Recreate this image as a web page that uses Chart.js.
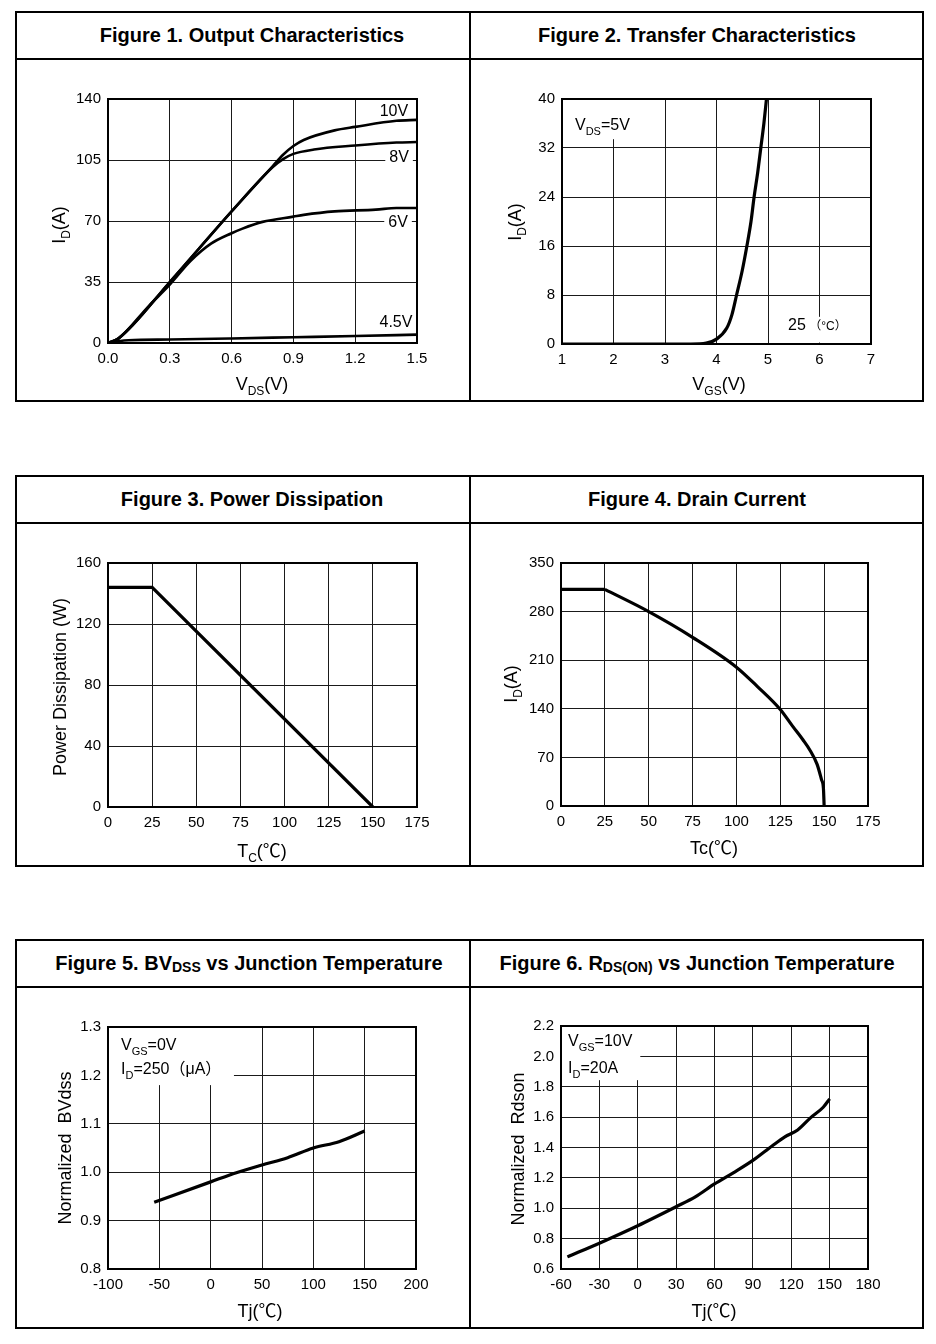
<!DOCTYPE html>
<html>
<head>
<meta charset="utf-8">
<script src="https://cdn.jsdelivr.net/npm/chart.js@4.4.1/dist/chart.umd.min.js"></script>
<style>
body{margin:0;width:936px;height:1344px;position:relative;background:#fff;font-family:"Liberation Sans",Arial,"Noto Sans CJK SC",sans-serif;}
.box{position:absolute;left:15px;width:909px;border:2px solid #000;box-sizing:border-box;}
.hl{position:absolute;left:15px;width:909px;height:2px;background:#000;}
.vl{position:absolute;left:469px;width:2px;background:#000;}
.ttl{position:absolute;height:45px;line-height:45px;text-align:center;font-weight:bold;font-size:20px;color:#000;}
.ttl small{font-size:14px;position:relative;top:2px;}
canvas{position:absolute;}
</style>
</head>
<body>
<div class="box" style="top:11px;height:391px"></div>
<div class="hl" style="top:58px"></div>
<div class="vl" style="top:11px;height:391px"></div>
<div class="ttl" style="left:16px;width:472px;top:13px">Figure 1. Output Characteristics</div>
<div class="ttl" style="left:470px;width:454px;top:13px">Figure 2. Transfer Characteristics</div>

<div class="box" style="top:475px;height:392px"></div>
<div class="hl" style="top:522px"></div>
<div class="vl" style="top:475px;height:392px"></div>
<div class="ttl" style="left:16px;width:472px;top:477px">Figure 3. Power Dissipation</div>
<div class="ttl" style="left:470px;width:454px;top:477px">Figure 4. Drain Current</div>

<div class="box" style="top:939px;height:390px"></div>
<div class="hl" style="top:986px"></div>
<div class="vl" style="top:939px;height:390px"></div>
<div class="ttl" style="left:16px;width:466px;top:941px">Figure 5. BV<small>DSS</small> vs Junction Temperature</div>
<div class="ttl" style="left:470px;width:454px;top:941px">Figure 6. R<small>DS(ON)</small> vs Junction Temperature</div>

<script>
// Figure 1 - output characteristics
var fig1XTicks = [0, 0.3, 0.6, 0.9, 1.2, 1.5];
var fig1YTicks = [0, 35, 70, 105, 140];
var fig1Vds10 = [0, 0.05, 0.3, 0.6, 0.8, 0.85, 0.9, 0.95, 1.1, 1.2, 1.4, 1.5];
var fig1Id10  = [0, 2.5, 35, 75.5, 101.5, 108, 113, 116.5, 122, 124, 127.5, 128];
var fig1Vds8  = [0, 0.05, 0.3, 0.6, 0.8, 0.85, 0.9, 1.0, 1.2, 1.4, 1.5];
var fig1Id8   = [0, 2.5, 35, 75.5, 101, 105.5, 108.5, 111, 113.3, 115, 115.3];
var fig1Vds6  = [0, 0.05, 0.2, 0.3, 0.4, 0.5, 0.6, 0.65, 0.75, 0.9, 0.95, 1.1, 1.3, 1.4, 1.5];
var fig1Id6   = [0, 2.5, 21.5, 33.5, 47, 57, 63, 65.5, 69.5, 72.5, 73.5, 75.5, 76.5, 77.5, 77.5];
var fig1Vds45 = [0, 0.05, 0.1, 0.3, 0.6, 0.9, 1.2, 1.5];
var fig1Id45  = [0, 1, 1.6, 2, 2.6, 3.3, 4, 4.8];

// Figure 2 - transfer characteristics
var fig2XTicks = [1, 2, 3, 4, 5, 6, 7];
var fig2YTicks = [0, 8, 16, 24, 32, 40];
var fig2Vgs = [1, 3.5, 3.8, 4.0, 4.2, 4.3, 4.39, 4.5, 4.59, 4.67, 4.73, 4.8, 4.86, 4.92, 4.97];
var fig2Id  = [0, 0, 0.15, 0.8, 2.6, 4.8, 8, 12, 16, 20, 24, 28, 32, 36, 40];

// Figure 3 - power dissipation
var fig3XTicks = [0, 25, 50, 75, 100, 125, 150, 175];
var fig3YTicks = [0, 40, 80, 120, 160];
var fig3Tc = [0, 25, 150];
var fig3Pd = [144, 144, 0];

// Figure 4 - drain current (flat part up to 25, then the derating curve)
var fig4XTicks = [0, 25, 50, 75, 100, 125, 150, 175];
var fig4YTicks = [0, 70, 140, 210, 280, 350];
var fig4Tc = [0, 25, 50, 75, 100, 112, 125, 132, 138, 142, 146, 148.5, 149.6, 150];
var fig4Id = [312, 312, 280, 243, 200, 172, 139, 115, 95, 80, 60, 38, 25, 0];

// Figure 5 - BVdss vs Tj
var fig5XTicks = [-100, -50, 0, 50, 100, 150, 200];
var fig5YTicks = [0.8, 0.9, 1.0, 1.1, 1.2, 1.3];
var fig5Tj = [-55, 0, 25, 50, 75, 100, 125, 150];
var fig5Bv = [0.938, 0.98, 0.999, 1.015, 1.03, 1.05, 1.063, 1.085];

// Figure 6 - Rds(on) vs Tj
var fig6XTicks = [-60, -30, 0, 30, 60, 90, 120, 150, 180];
var fig6YTicks = [0.6, 0.8, 1.0, 1.2, 1.4, 1.6, 1.8, 2.0, 2.2];
var fig6Tj = [-55, -30, 0, 30, 45, 60, 75, 90, 105, 115, 125, 135, 145, 150];
var fig6R  = [0.68, 0.77, 0.885, 1.01, 1.075, 1.16, 1.235, 1.315, 1.41, 1.47, 1.515, 1.595, 1.665, 1.72];

var FAM = '"Liberation Sans", Arial, "Noto Sans CJK SC", sans-serif';

function drawRich(ctx, parts, x, y, size, align, rot) {
	ctx.save();
	ctx.translate(x, y);
	if (rot) ctx.rotate(-Math.PI / 2);
	var w = 0;
	parts.forEach(function(p) {
		ctx.font = (p[1] ? Math.round(size * 0.68) : (p[2] || size)) + 'px ' + FAM;
		w += ctx.measureText(p[0]).width;
	});
	var cx = align == 'center' ? -w / 2 : 0;
	ctx.fillStyle = '#000';
	ctx.textBaseline = 'alphabetic';
	ctx.textAlign = 'left';
	parts.forEach(function(p) {
		ctx.font = (p[1] ? Math.round(size * 0.68) : (p[2] || size)) + 'px ' + FAM;
		ctx.fillText(p[0], cx, p[1] ? size * 0.3 : 0);
		cx += ctx.measureText(p[0]).width;
	});
	ctx.restore();
	return w;
}

function panel(o) {
	var cv = document.createElement('canvas');
	cv.width = o.box[2];
	cv.height = o.box[3];
	cv.style.left = o.box[0] + 'px';
	cv.style.top = o.box[1] + 'px';
	document.body.appendChild(cv);
	var ox = o.box[0], oy = o.box[1];
	var padT = o.plot[1] - oy, padR = ox + o.box[2] - o.plot[2];
	var yW = o.plot[0] - ox, xH = oy + o.box[3] - o.plot[3];

	var axis = function(ticks, min, max, dec) {
		return {
			type: 'linear', min: min, max: max,
			afterBuildTicks: function(s) { s.ticks = ticks.map(function(v) { return {value: v}; }); },
			ticks: {
				color: '#000', padding: 7, autoSkip: false, maxRotation: 0,
				font: {family: FAM, size: 15},
				callback: function(v) { return dec ? Number(v).toFixed(dec) : String(v); }
			},
			grid: {color: '#1a1a1a', lineWidth: 1, drawTicks: false},
			border: {display: false}
		};
	};
	var xs = axis(o.xTicks, o.xTicks[0], o.xTicks[o.xTicks.length - 1], o.xDec);
	xs.afterFit = function(s) { s.height = xH; };
	var ys = axis(o.yTicks, o.yTicks[0], o.yTicks[o.yTicks.length - 1], o.yDec);
	ys.afterFit = function(s) { s.width = yW; };

	new Chart(cv, {
		type: 'line',
		data: {
			datasets: o.series.map(function(s) {
				return {
					data: s[0].map(function(x, i) { return {x: x, y: s[1][i]}; }),
					borderColor: '#000', borderWidth: o.lw || 3,
					pointRadius: 0, fill: false, tension: 0,
					cubicInterpolationMode: o.smooth ? 'monotone' : 'default'
				};
			})
		},
		options: {
			responsive: false, animation: false,
			layout: {padding: {left: 0, top: padT, right: padR, bottom: 0}},
			plugins: {legend: {display: false}, tooltip: {enabled: false}},
			scales: {x: xs, y: ys}
		},
		plugins: [{
			id: 'deco',
			beforeDatasetsDraw: function(c) {
				var ctx = c.ctx, sx = c.scales.x, sy = c.scales.y;
				ctx.save();
				ctx.fillStyle = '#fff';
				(o.masks || []).forEach(function(b) {
					var x1 = sx.getPixelForValue(b[0]), x2 = sx.getPixelForValue(b[1]);
					var y1 = sy.getPixelForValue(b[2]), y2 = sy.getPixelForValue(b[3]);
					ctx.fillRect(Math.min(x1, x2) + 1, Math.min(y1, y2) + 1, Math.abs(x2 - x1), Math.abs(y2 - y1));
				});
				(o.notes || []).forEach(function(n) {
					if (!n.bg) return;
					ctx.font = n.size + 'px ' + FAM;
					var w = ctx.measureText(n.parts.map(function(p) { return p[0]; }).join('')).width;
					var px = sx.getPixelForValue(n.x), py = sy.getPixelForValue(n.y);
					ctx.fillRect(px - w / 2 - 4, py - n.size * 0.6, w + 8, n.size * 1.2);
				});
				ctx.restore();
			},
			afterDraw: function(c) {
				var ctx = c.ctx, a = c.chartArea, sx = c.scales.x, sy = c.scales.y;
				ctx.save();
				ctx.strokeStyle = '#000';
				ctx.lineWidth = 2;
				ctx.strokeRect(a.left, a.top, a.right - a.left, a.bottom - a.top);
				ctx.restore();
				(o.notes || []).forEach(function(n) {
					var px = sx.getPixelForValue(n.x), py = sy.getPixelForValue(n.y) + n.size * 0.36;
					drawRich(ctx, n.parts, px, py, n.size, n.bg ? 'center' : 'left', false);
				});
				drawRich(ctx, o.xTitle[0], o.xTitle[1] - ox, o.xTitle[2] - oy, 18, 'center', false);
				drawRich(ctx, o.yTitle[0], o.yTitle[1] - ox, o.yTitle[2] - oy, 18, 'center', true);
			}
		}]
	});
}

panel({
	box: [18, 61, 450, 339], plot: [108, 99, 417, 343],
	xTicks: fig1XTicks, yTicks: fig1YTicks, xDec: 1,
	series: [[fig1Vds10, fig1Id10], [fig1Vds8, fig1Id8], [fig1Vds6, fig1Id6], [fig1Vds45, fig1Id45]],
	smooth: true, lw: 2.6,
	notes: [
		{x: 1.388, y: 133.7, size: 16, bg: true, parts: [['10V']]},
		{x: 1.413, y: 107.3, size: 16, bg: true, parts: [['8V']]},
		{x: 1.408, y: 70, size: 16, bg: true, parts: [['6V']]},
		{x: 1.398, y: 12.6, size: 16, bg: true, parts: [['4.5V']]}
	],
	xTitle: [[['V'], ['DS', 1], ['(V)']], 262, 390],
	yTitle: [[['I'], ['D', 1], ['(A)']], 65, 225]
});

panel({
	box: [472, 61, 450, 339], plot: [562, 99, 871, 344],
	xTicks: fig2XTicks, yTicks: fig2YTicks,
	series: [[fig2Vgs, fig2Id]],
	smooth: true, lw: 3.2,
	masks: [[1, 2.52, 40, 33.6], [5.25, 6.68, 4.6, 0.4]],
	notes: [
		{x: 1.252, y: 35.9, size: 16, parts: [['V'], ['DS', 1], ['=5V']]},
		{x: 5.39, y: 3.27, size: 16, parts: [['25'], [' （°C）', 0, 12]]}
	],
	xTitle: [[['V'], ['GS', 1], ['(V)']], 719, 390],
	yTitle: [[['I'], ['D', 1], ['(A)']], 521, 222]
});

panel({
	box: [18, 525, 450, 339], plot: [108, 563, 417, 807],
	xTicks: fig3XTicks, yTicks: fig3YTicks,
	series: [[fig3Tc, fig3Pd]],
	lw: 3.2,
	xTitle: [[['T'], ['C', 1], ['(℃)']], 262, 857],
	yTitle: [[['Power Dissipation (W)']], 66, 687]
});

panel({
	box: [472, 525, 450, 339], plot: [561, 563, 868, 806],
	xTicks: fig4XTicks, yTicks: fig4YTicks,
	series: [[fig4Tc.slice(0, 2), fig4Id.slice(0, 2)], [fig4Tc.slice(1), fig4Id.slice(1)]],
	smooth: true, lw: 3.2,
	xTitle: [[['Tc(℃)']], 714, 854],
	yTitle: [[['I'], ['D', 1], ['(A)']], 517, 684]
});

panel({
	box: [18, 989, 450, 337], plot: [108, 1027, 416, 1269],
	xTicks: fig5XTicks, yTicks: fig5YTicks, yDec: 1,
	series: [[fig5Tj, fig5Bv]],
	smooth: true, lw: 3.2,
	masks: [[-100, 21.7, 1.3, 1.182]],
	notes: [
		{x: -87.3, y: 1.265, size: 16, parts: [['V'], ['GS', 1], ['=0V']]},
		{x: -87.3, y: 1.215, size: 16, parts: [['I'], ['D', 1], ['=250（μA）']]}
	],
	xTitle: [[['Tj(℃)']], 260, 1317],
	yTitle: [[['Normalized  BVdss']], 71, 1148]
});

panel({
	box: [472, 989, 450, 337], plot: [561, 1026, 868, 1269],
	xTicks: fig6XTicks, yTicks: fig6YTicks, yDec: 1,
	series: [[fig6Tj, fig6R]],
	smooth: true, lw: 3.2,
	masks: [[-60, 1.2, 2.2, 1.85]],
	notes: [
		{x: -54.5, y: 2.108, size: 16, parts: [['V'], ['GS', 1], ['=10V']]},
		{x: -54.5, y: 1.93, size: 16, parts: [['I'], ['D', 1], ['=20A']]}
	],
	xTitle: [[['Tj(℃)']], 714, 1317],
	yTitle: [[['Normalized  Rdson']], 524, 1149]
});
</script>
</body>
</html>
